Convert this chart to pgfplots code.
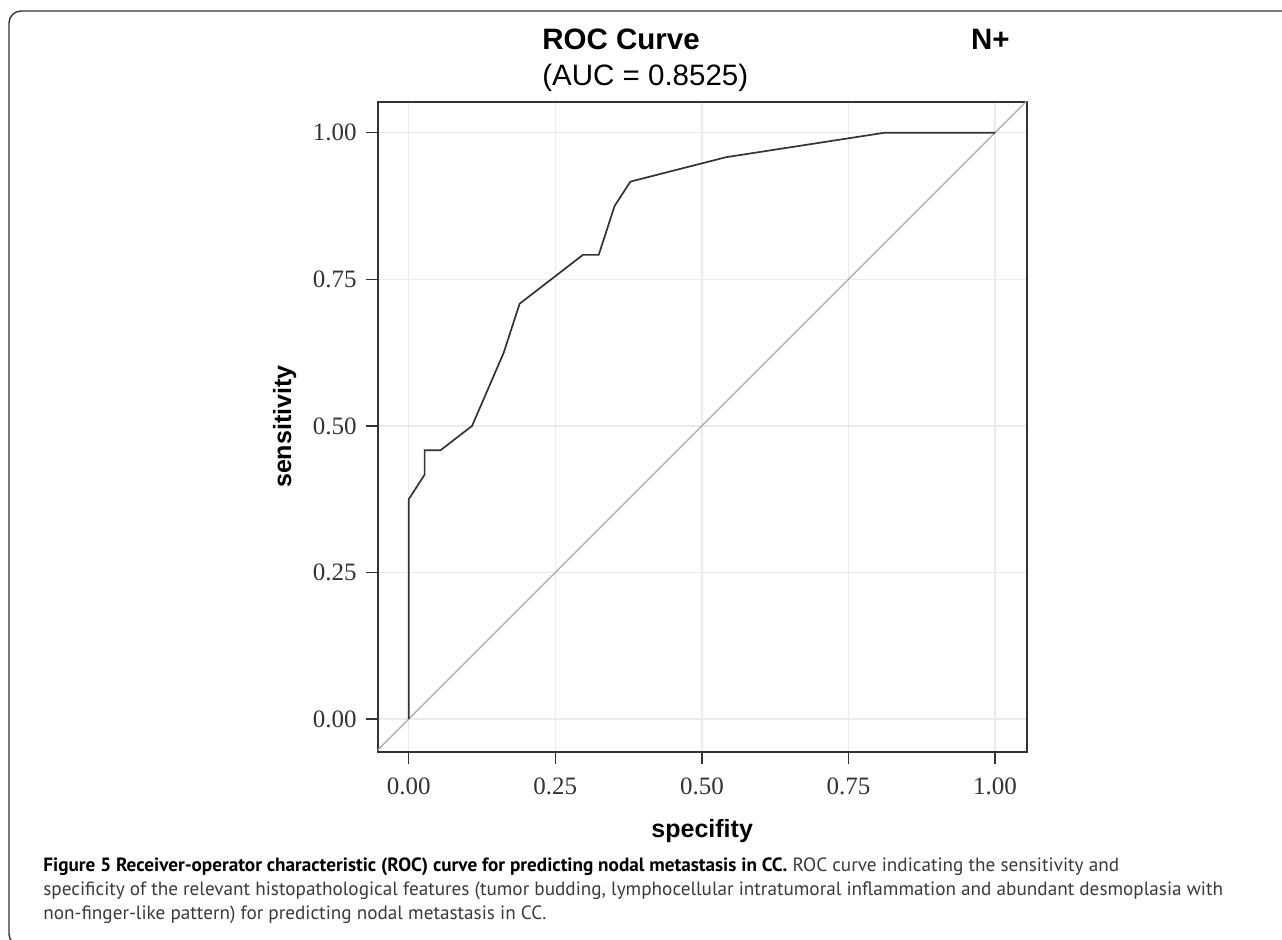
\documentclass[border=0pt]{standalone}
\usepackage{fontspec}
\setmainfont{Liberation Serif}
\newfontfamily\arialfont{Liberation Sans}
\newfontfamily\capfont{PT Sans}
\usepackage{pgfplots}
\pgfplotsset{compat=1.18}
\definecolor{axisgray}{HTML}{333333}
\definecolor{gridgray}{HTML}{EBEBEB}
\definecolor{diaggray}{HTML}{A8A8A8}
\definecolor{captext}{HTML}{3A3A3A}

\begin{document}
\begin{tikzpicture}
% page: 1282 x 939 px, 1 px = 0.5pt, origin top left
\path[use as bounding box] (0,0) rectangle (641pt,-469.5pt);
\draw[line width=0.7pt, axisgray, rounded corners=6pt]
  (660pt,-473pt) -- (4.5pt,-473pt) -- (4.5pt,-5.5pt) -- (660pt,-5.5pt);

\begin{axis}[
  at={(188.85pt,-375.85pt)}, anchor=south west,
  scale only axis, width=324.5pt, height=325pt,
  xmin=-0.053, xmax=1.054, ymin=-0.0558, ymax=1.053,
  xtick={0,0.25,0.5,0.75,1}, ytick={0,0.25,0.5,0.75,1},
  xticklabels={0.00,0.25,0.50,0.75,1.00},
  yticklabels={0.00,0.25,0.50,0.75,1.00},
  tick align=outside, xtick pos=bottom, ytick pos=left,
  major tick length=6pt,
  tick style={line width=0.7pt, axisgray},
  axis line style={line width=0.9pt, axisgray},
  grid=major, grid style={line width=0.7pt, gridgray},
  tick label style={font=\fontsize{12.5}{12.5}\selectfont, text=axisgray},
  xticklabel style={yshift=-3.5pt},
  yticklabel style={xshift=-1pt},
]
% chance line
\addplot[diaggray, line width=0.6pt] coordinates {(-0.1,-0.1) (1.1,1.1)};
% ROC curve
\addplot[axisgray, line width=0.85pt] coordinates {
  (0,0) (0,0.375) (0.027,0.4167) (0.027,0.4583) (0.054,0.4583)
  (0.108,0.5) (0.162,0.625) (0.189,0.7083) (0.297,0.7917)
  (0.324,0.7917) (0.351,0.875) (0.378,0.9167) (0.541,0.9583)
  (0.811,1) (1,1)
};
\end{axis}

% titles
\node[anchor=base west, inner sep=0, font=\arialfont\bfseries\fontsize{14.75}{14.75}\selectfont]
  at (271pt,-24.5pt) {ROC Curve};
\node[anchor=base west, inner sep=0, font=\arialfont\fontsize{14.75}{14.75}\selectfont]
  at (271pt,-42.5pt) {(AUC = 0.8525)};
\node[anchor=base east, inner sep=0, font=\arialfont\bfseries\fontsize{14.75}{14.75}\selectfont]
  at (505pt,-24.5pt) {N+};

% axis labels
\node[rotate=90, anchor=base, inner sep=0, font=\arialfont\bfseries\fontsize{12.5}{12.5}\selectfont]
  at (145.5pt,-213.35pt) {sensitivity};
\node[anchor=base, inner sep=0, font=\arialfont\bfseries\fontsize{12.5}{12.5}\selectfont]
  at (351.1pt,-418.5pt) {specifity};

% caption
\begin{scope}[every node/.style={anchor=base west, inner sep=0, text=captext,
    font=\capfont\fontsize{9.6}{9.6}\selectfont}]
\node at (21.5pt,-435.5pt) {\textbf{\color{black}Figure 5 Receiver-operator characteristic (ROC) curve for predicting nodal metastasis in CC.} ROC curve indicating the sensitivity and};
\node at (21.5pt,-447.5pt) {specificity of the relevant histopathological features (tumor budding, lymphocellular intratumoral inflammation and abundant desmoplasia with};
\node at (21.5pt,-459.5pt) {non-finger-like pattern) for predicting nodal metastasis in CC.};
\end{scope}
\end{tikzpicture}
\end{document}
